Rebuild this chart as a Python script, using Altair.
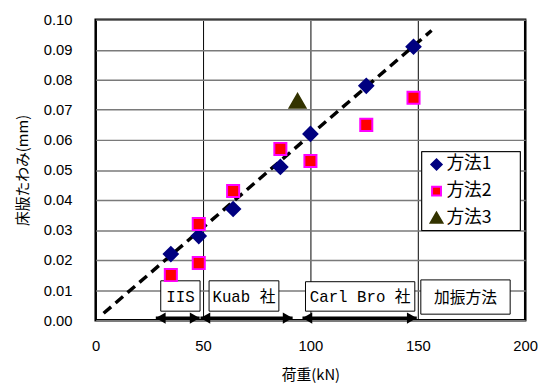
import altair as alt
import pandas as pd

# ---- data ----
m1_x = [35, 48, 64, 86, 100, 126, 148]
m1_y = [0.022, 0.028, 0.037, 0.051, 0.062, 0.078, 0.091]
m2_x = [35, 48, 48, 64, 86, 100, 126, 148]
m2_y = [0.015, 0.019, 0.032, 0.043, 0.057, 0.053, 0.065, 0.074]
m3_x = [94]
m3_y = [0.073]
fit_x = [3.7, 156.4]
fit_y = [0.0023, 0.0964]

box_text = ["IIS", "Kuab 社", "Carl Bro 社", "加振方法"]
box_x1 = [30.3, 52.8, 97.7, 151.4]
box_x2 = [48.6, 85.3, 148.6, 193.0]
box_y1 = [0.0030, 0.0030, 0.0030, 0.0020]
box_y2 = [0.0131, 0.0131, 0.0128, 0.0134]

arr_x1 = [28.0, 48.8, 96.3]
arr_x2 = [48.4, 91.7, 149.5]
arr_y = [0.0007, 0.0007, 0.0007]

x_ticks = [0, 50, 100, 150, 200]
y_ticks = [0.00, 0.01, 0.02, 0.03, 0.04, 0.05, 0.06, 0.07, 0.08, 0.09, 0.10]

series = ["方法1", "方法2", "方法3"]
shapes = ["diamond", "square", "triangle-up"]
fills = ["#000080", "#ff0000", "#333300"]
strokes = ["#000080", "#ff00ff", "#333300"]
sizes = [200, 150, 260]

fit = pd.DataFrame({"x": fit_x, "y": fit_y})
boxes = pd.DataFrame({"t": box_text, "x1": box_x1, "x2": box_x2, "y1": box_y1, "y2": box_y2,
                      "xm": [(a + b) / 2 for a, b in zip(box_x1, box_x2)],
                      "ym": [(a + b) / 2 for a, b in zip(box_y1, box_y2)]})
arrows = pd.DataFrame({"x1": arr_x1, "x2": arr_x2, "y": arr_y})

NUMF = "Liberation Sans"
JPF = "Noto Sans CJK JP"
MONO = "Liberation Mono"

xs = alt.Scale(domain=[0, 200], nice=False, zero=False)
ys = alt.Scale(domain=[0, 0.10], nice=False, zero=False)


def XA(f):
    return alt.X(f, scale=xs, title="荷重(kN)",
                 axis=alt.Axis(values=x_ticks, grid=True, gridColor="#000000", gridWidth=1,
                               domain=False, ticks=False, labelPadding=19, titlePadding=14,
                               labelFontSize=15, titleFontSize=15, labelFont=NUMF, titleFont=JPF,
                               labelColor="#000", titleColor="#000", titleFontWeight="normal",
                               labelFlush=False, labelOverlap=False))


def YA(f):
    return alt.Y(f, scale=ys, title="床版たわみ(mm)",
                 axis=alt.Axis(values=y_ticks, format=".2f", grid=True, gridColor="#7a7a7a",
                               gridWidth=1.5, domain=False, ticks=False, labelPadding=24,
                               titlePadding=13, labelFontSize=15, titleFontSize=15,
                               labelFont=NUMF, titleFont=JPF, labelColor="#000", titleColor="#000",
                               titleFontWeight="normal", labelOverlap=False))


layers = []
layers.append(alt.Chart(fit).mark_line(color="black", strokeWidth=3.5, strokeDash=[10, 6]).encode(
    x=XA("x:Q"), y=YA("y:Q")))

layers.append(alt.Chart(boxes).mark_rect(fill="white", stroke="black", strokeWidth=1).encode(
    x=XA("x1:Q"), x2="x2:Q", y=YA("y1:Q"), y2="y2:Q"))
layers.append(alt.Chart(boxes).mark_text(font=MONO + ", " + JPF, fontSize=16, color="black", dy=1).encode(
    x=XA("xm:Q"), y=YA("ym:Q"), text="t:N"))
layers.append(alt.Chart(arrows).mark_rule(color="black", strokeWidth=3).encode(
    x=XA("x1:Q"), x2="x2:Q", y=YA("y:Q")))
layers.append(alt.Chart(arrows).mark_point(shape="triangle-left", filled=True, color="black", size=130,
                                           opacity=1, xOffset=5).encode(x=XA("x1:Q"), y=YA("y:Q")))
layers.append(alt.Chart(arrows).mark_point(shape="triangle-right", filled=True, color="black", size=130,
                                           opacity=1, xOffset=-5).encode(x=XA("x2:Q"), y=YA("y:Q")))

xs_all = [m1_x, m2_x, m3_x]
ys_all = [m1_y, m2_y, m3_y]
for i, s in enumerate(series):
    df = pd.DataFrame({"x": xs_all[i], "y": ys_all[i]})
    layers.append(alt.Chart(df).mark_point(shape=shapes[i], filled=True, opacity=1, fill=fills[i],
                                           stroke=strokes[i], strokeWidth=2, size=sizes[i]).encode(
        x=XA("x:Q"), y=YA("y:Q")))

# legend box (pixel positions inside the plot area)
leg_df = pd.DataFrame({"s": series})
layers.append(alt.Chart(leg_df).mark_rect(fill="white", stroke="black", strokeWidth=1).encode(
    x=alt.value(331), x2=alt.value(431), y=alt.value(134), y2=alt.value(214)))
leg_y = [147, 174, 201]
for i, s in enumerate(series):
    one = pd.DataFrame({"s": [s]})
    layers.append(alt.Chart(one).mark_point(shape=shapes[i], filled=True, opacity=1, fill=fills[i],
                                            stroke=strokes[i], strokeWidth=2, size=int(sizes[i] * 0.55)).encode(
        x=alt.value(346), y=alt.value(leg_y[i])))
    layers.append(alt.Chart(one).mark_text(font=JPF, fontSize=18, align="left", baseline="middle",
                                           color="black").encode(
        x=alt.value(356), y=alt.value(leg_y[i]), text="s:N"))

chart = alt.layer(*layers).properties(
    width=436, height=305,
    autosize=alt.AutoSizeParams(type="none"),
    padding={"left": 89, "top": 9, "right": 13, "bottom": 68},
    background="white",
).configure_view(stroke="black", strokeWidth=2.5)

chart.save("out.html", embed_options={"renderer": "svg", "actions": False})
